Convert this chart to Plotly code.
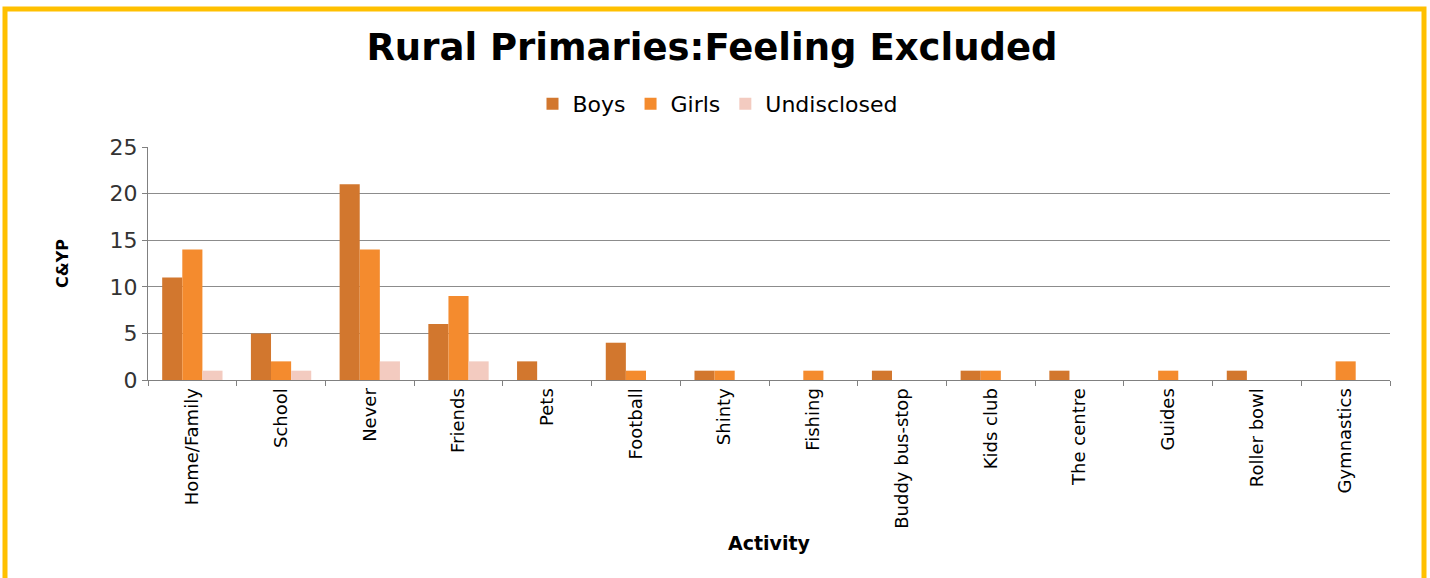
import plotly.graph_objects as go

# Categorias e valores
atividades = ['Home/Family', 'School', 'Never', 'Friends', 'Pets', 'Football', 'Shinty',
              'Fishing', 'Buddy bus-stop', 'Kids club', 'The centre', 'Guides',
              'Roller bowl', 'Gymnastics']
boys = [11, 5, 21, 6, 2, 4, 1, 0, 1, 1, 1, 0, 1, 0]
girls = [14, 2, 14, 9, 0, 1, 1, 1, 0, 1, 0, 1, 0, 2]
undisclosed = [1, 1, 2, 2, 0, 0, 0, 0, 0, 0, 0, 0, 0, 0]

fonte = 'DejaVu Sans'

fig = go.Figure()
fig.add_trace(go.Bar(x=atividades, y=boys, name='Boys', marker={'color': '#D2772E', 'line': {'width': 0}}))
fig.add_trace(go.Bar(x=atividades, y=girls, name='Girls', marker={'color': '#F48B2E', 'line': {'width': 0}}))
fig.add_trace(go.Bar(x=atividades, y=undisclosed, name='Undisclosed', marker={'color': '#F3CBC0', 'line': {'width': 0}}))

# Margens em pixels: área do gráfico de x=148..1390, y=147..380
W, H = 1430, 578
ml, mr, mt, mb = 148, 40, 147, 198
pw, ph = W - ml - mr, H - mt - mb

def px_x(x):
    return (x - ml) / pw

def px_y(y):
    return (H - mb - y) / ph

fig.update_layout(
    width=W, height=H,
    plot_bgcolor='white',
    paper_bgcolor='white',
    margin={'l': ml, 'r': mr, 't': mt, 'b': mb},
    font={'family': fonte, 'color': '#000000', 'size': 17},
    barmode='group',
    bargap=0.32,
    bargroupgap=0,
    title={
        'text': '<b>Rural Primaries:Feeling Excluded</b>',
        'x': 712 / W,
        'y': 1 - 47 / H,
        'xanchor': 'center',
        'yanchor': 'middle',
        'font': {'family': fonte, 'size': 37, 'color': '#000000'},
    },
    legend={
        'orientation': 'h',
        'x': px_x(718), 'xanchor': 'center',
        'y': px_y(104), 'yanchor': 'middle',
        'font': {'family': fonte, 'size': 22},
        'itemwidth': 30,
        'traceorder': 'normal',
    },
    xaxis={
        'title': {'text': '<b>Activity</b>', 'font': {'size': 19}, 'standoff': 8},
        'tickangle': -90,
        'showline': True, 'linecolor': '#808080', 'linewidth': 1,
        'ticks': 'outside', 'tickson': 'boundaries', 'ticklen': 5, 'tickcolor': '#808080',
        'showgrid': False,
        'tickfont': {'size': 18},
    },
    yaxis={
        'title': {'text': '<b>C&YP</b>', 'font': {'size': 16}, 'standoff': 36},
        'range': [0, 25],
        'dtick': 5,
        'showline': True, 'linecolor': '#808080', 'linewidth': 1,
        'ticks': 'outside', 'ticklen': 5, 'tickcolor': '#808080',
        'showgrid': True, 'gridcolor': '#8c8c8c', 'gridwidth': 1,
        'zeroline': False,
        'tickfont': {'size': 22, 'color': '#333333'},
    },
)

# Moldura amarela em volta do gráfico
fig.add_shape(
    type='rect', xref='paper', yref='paper',
    x0=px_x(5), x1=px_x(1424), y0=px_y(590), y1=px_y(9),
    line={'color': '#FFC000', 'width': 5},
    fillcolor='rgba(0,0,0,0)',
    layer='above',
)

# Remove a margem padrão do body para a figura ocupar a janela toda
fig.write_html('out.html', config={'displayModeBar': False},
               post_script="document.body.style.margin='0';")
